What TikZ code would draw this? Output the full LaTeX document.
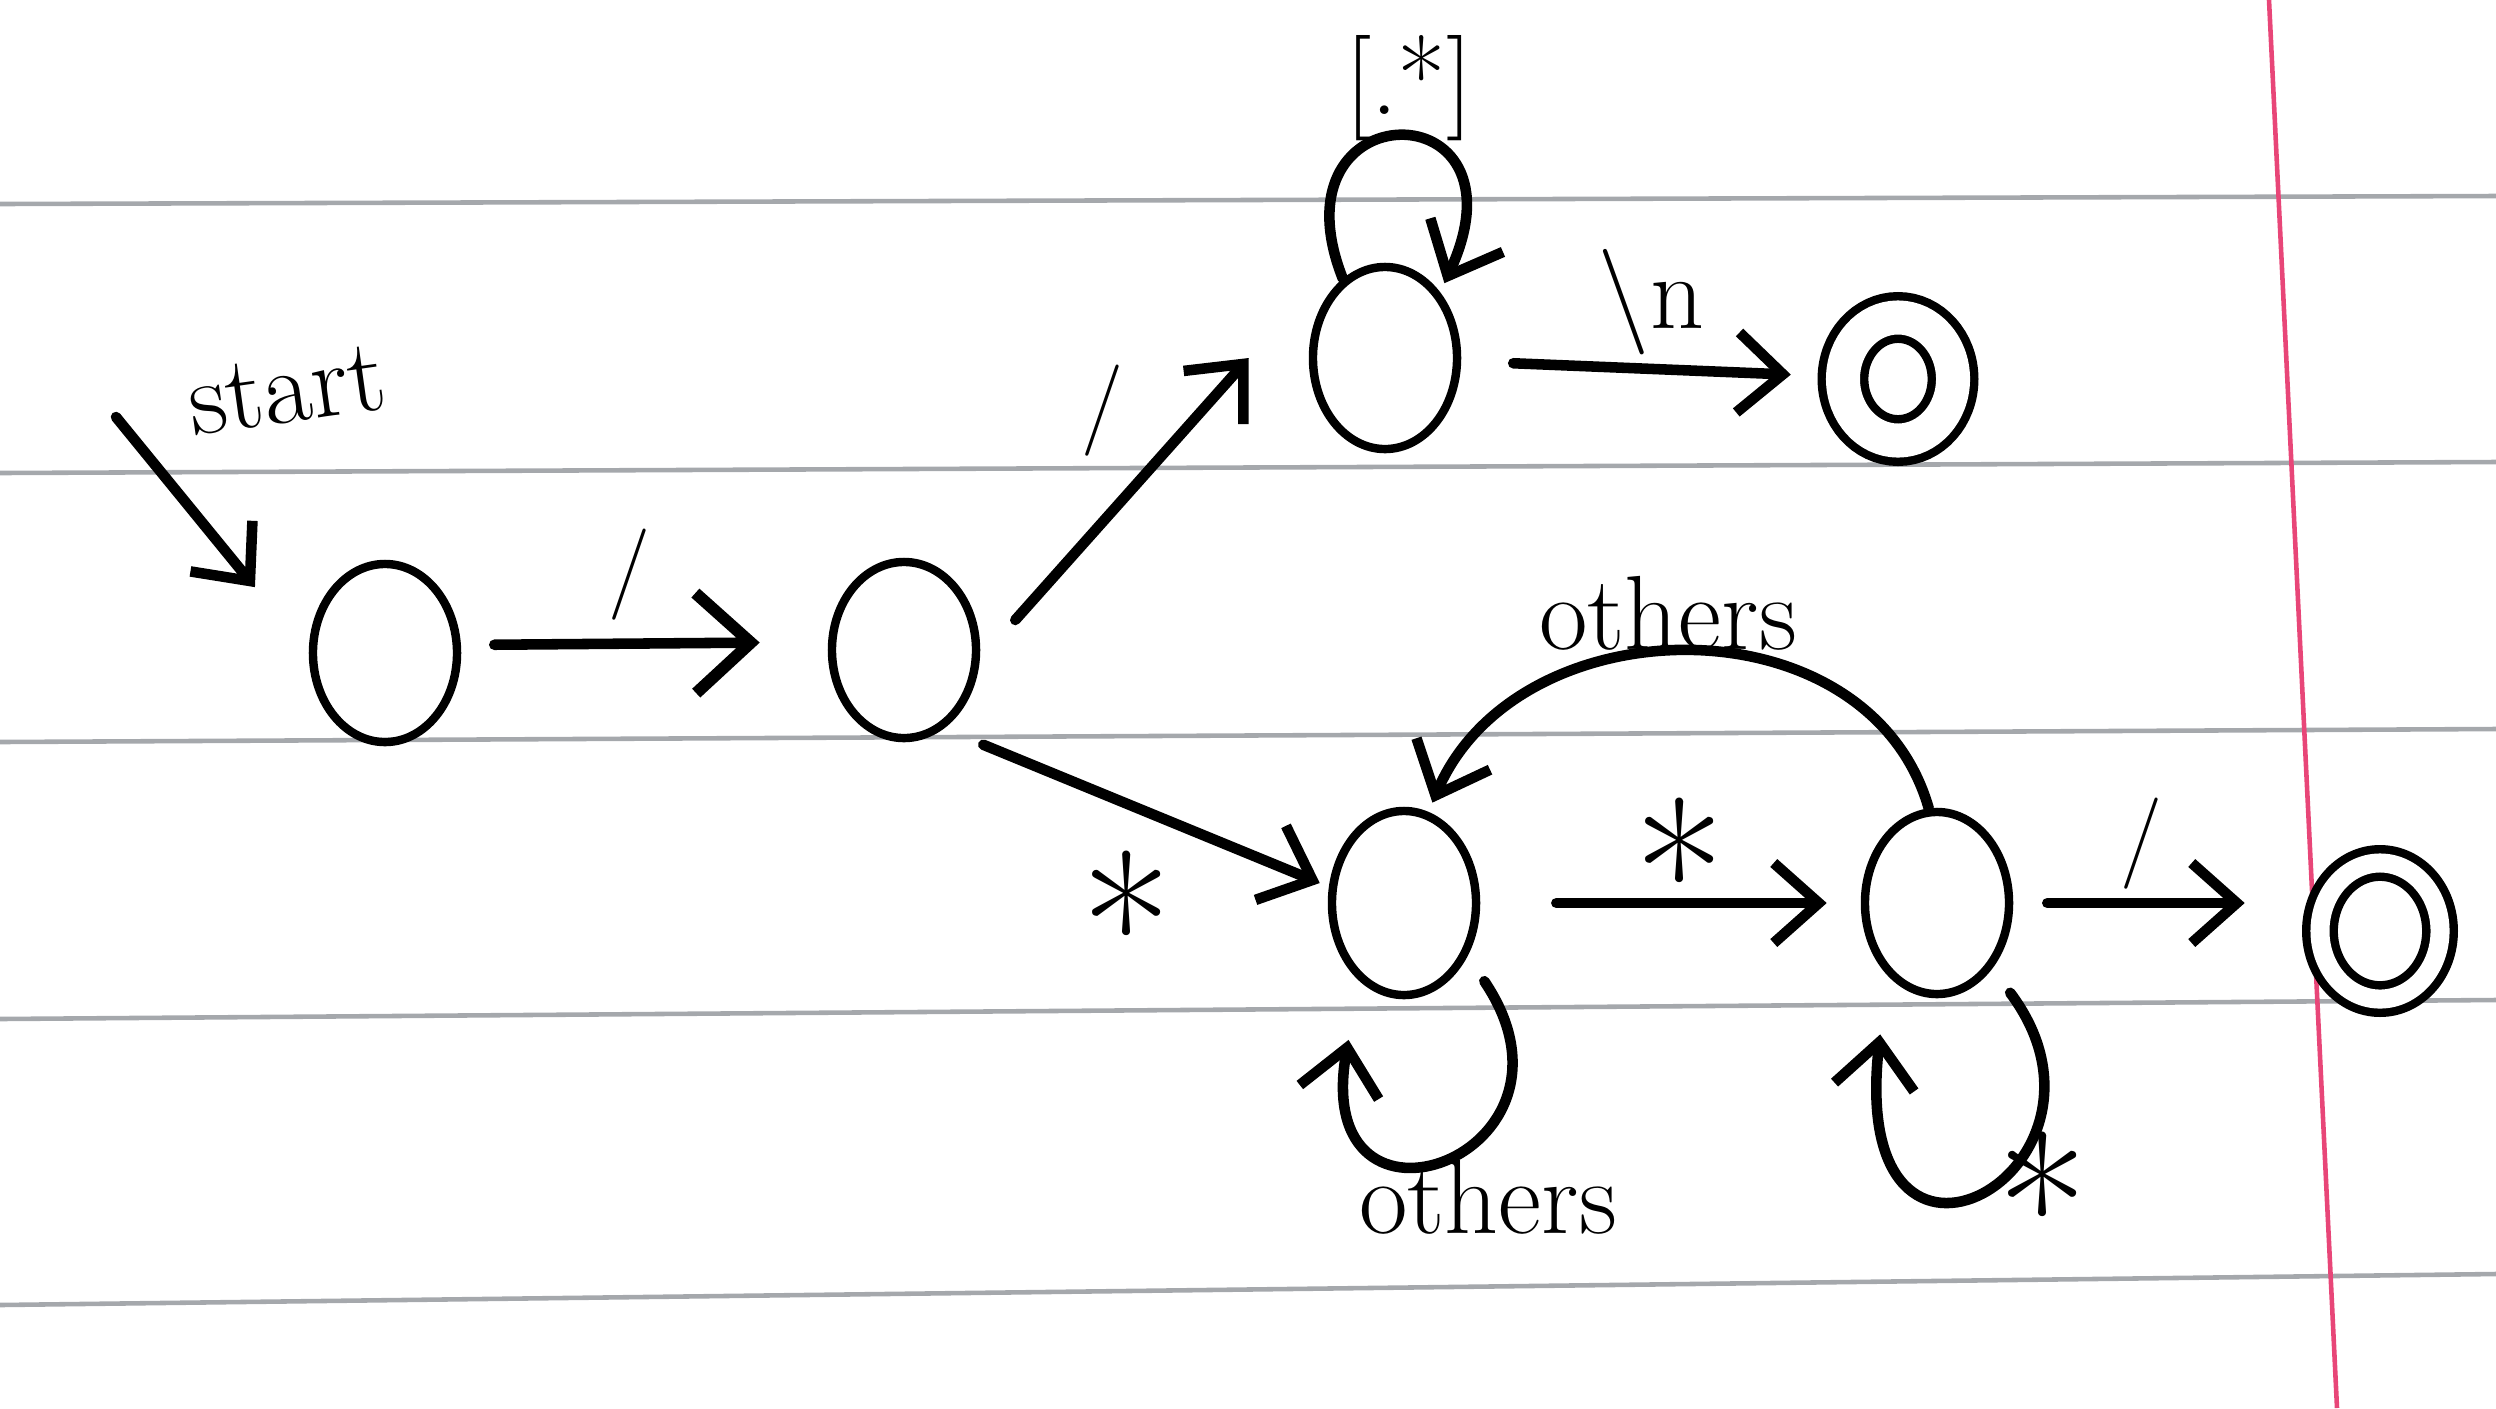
\documentclass[tikz,border=0pt]{standalone}
\usetikzlibrary{arrows.meta,shapes.geometric}
\definecolor{rulegray}{RGB}{165,168,172}
\definecolor{marginpink}{RGB}{232,70,120}
\tikzset{every picture/.style={line width=3pt},
  state/.style={draw, ellipse, line width=2.4pt, inner sep=0pt, minimum width=1.44cm, minimum height=1.78cm},
  accept/.style={state, double, double distance=#1},
  edge/.style={line width=3pt, line cap=round, -{Straight Barb[length=4.5mm,width=8mm,line width=3pt]}},
  bigedge/.style={edge, -{Straight Barb[length=5.5mm,width=10mm,line width=3.4pt]}},
  lbl/.style={inner sep=0.75pt, font=\fontsize{30}{36}\selectfont},
  slash/.style={inner sep=0.75pt, font=\fontsize{26}{30}\selectfont},
  star/.style={inner sep=0.75pt, font=\fontsize{56}{60}\selectfont},
  paperline/.style={line width=1.3pt, color=rulegray}
}

\begin{document}
\begin{tikzpicture}[x=0.01cm,y=0.01cm,yscale=-1,xscale=1]
\useasboundingbox (0,0) rectangle (2496,1408);
%Paper lines
\draw [paperline] (0,204) -- (2496,196) ;
\draw [paperline] (0,473) -- (2496,462) ;
\draw [paperline] (0,742) -- (2496,729) ;
\draw [paperline] (0,1019) -- (2496,1000) ;
\draw [paperline] (0,1305) -- (2496,1274) ;
\draw [line width=1.3pt, color=marginpink] (2269,0) -- (2337,1408) ;
%Shape: Ellipse
\node [state] (q0) at (385,653) {};
\node [state, minimum height=1.76cm] (q1) at (904,650) {};
\node [state, minimum height=1.82cm] (q2) at (1385,358) {};
\node [accept=0.34cm, minimum width=1.1cm, minimum height=1.23cm] (q3) at (1898,379) {};
\node [state, minimum height=1.84cm] (q4) at (1404,903) {};
\node [state, minimum height=1.82cm] (q5) at (1937,903) {};
\node [accept=0.19cm, minimum width=1.2cm, minimum height=1.36cm] (q6) at (2380,931) {};
\coordinate (s0) at (116,417);
%Straight Lines
\draw [edge, shorten >=0.85cm] (s0) -- (q0.west) ;
\draw [bigedge, shorten <=0.33cm, shorten >=0.68cm] ([shift={(0,-8)}]q0.east) -- ([shift={(0,-8)}]q1.west) ;
\draw [edge] ([shift={(35,-30)}]q1.east) -- ([shift={(-60,0)}]q2.west) ;
\draw [edge, shorten <=0.52cm, shorten >=0.48cm] (q2) -- (q3) ;
\draw [edge] ([shift={(25,30)}]q1.-50) -- ([shift={(-8,-20)}]q4.west) ;
\draw [edge, shorten <=0.76cm, shorten >=0.34cm] (q4) -- (q5) ;
\draw [edge, shorten <=0.34cm, shorten >=0.71cm] (q5.east) -- (q5.east -| q6.west) ;
%Curve Lines
\draw [edge, shorten >=0.1cm] (q2.118) .. controls +(-75,-190) and +(95,-205) .. (q2.50) ;
\draw [edge, shorten >=0.1cm] (q5.95) .. controls +(-60,-210) and +(90,-210) .. (q4.75) ;
\draw [edge, shorten <=0.3cm, shorten >=0.6cm] (q4.-40) .. controls +(135,200) and +(-50,280) .. (q4.-120) ;
\draw [edge, shorten <=0.3cm, shorten >=0.6cm] (q5.-50) .. controls +(150,200) and +(-40,360) .. (q5.-125) ;
% Text Node
\node [lbl, rotate=8] (tstart) at (287,390) {start};
\node [slash] (t01) at (629,575) {/};
\node [slash] (t12) at (1102,411) {/};
\node [lbl] (t22) at (1409,88) {[.*]};
\node [lbl] (t23) at (1651,302) {\textbackslash n};
\node [star] (t14) at (1127,925) {*};
\node [star] (t45) at (1680,872) {*};
\node [lbl] (t54) at (1668,613) {others};
\node [lbl] (t44) at (1488,1197) {others};
\node [star] (t55) at (2043,1206) {*};
\node [slash] (t56) at (2141,844) {/};
\end{tikzpicture}
\end{document}
